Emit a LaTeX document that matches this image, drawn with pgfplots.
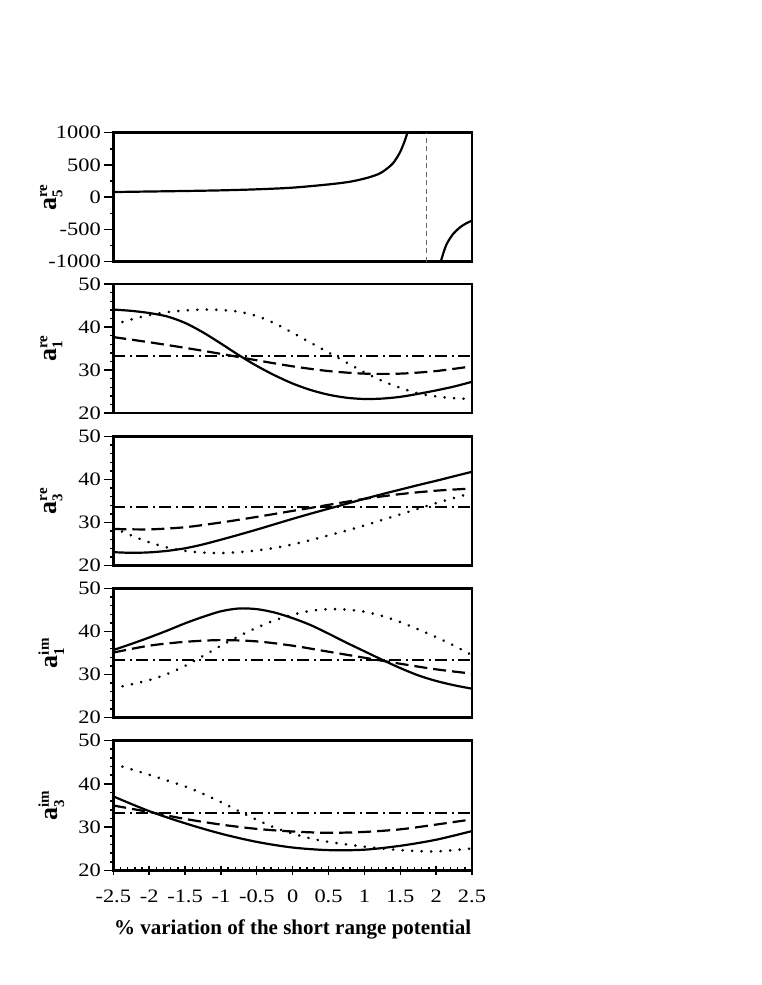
\documentclass[border=0pt]{standalone}
\usepackage{amsmath}
\usepackage{fontspec}
\setmainfont{Liberation Serif}
\newfontfamily\tickfont[FakeStretch=1.18]{Liberation Serif}
\usepackage{pgfplots}
\pgfplotsset{compat=1.18}
\newcommand{\scr}[1]{\mbox{\fontsize{15}{15}\selectfont\bfseries #1}}
\newcommand{\alab}[2]{$\textbf{a}_{\scr{#1}}^{\scr{#2}}$}
\pgfplotsset{
  panel/.style={
    scale only axis, width=358.7pt, height=129pt,
    anchor=south west,
    xmin=-2.5, xmax=2.5,
    axis line style={line width=2.5pt},
    tick style={line width=1.4pt, black},
    major tick length=9pt, minor tick length=3.5pt,
    tick align=outside,
    ytick pos=left, xtick pos=bottom,
    xtick=\empty,
    ticklabel style={font=\tickfont\fontsize{19}{21}\selectfont},
    every axis y label/.style={at={(axis description cs:0,0.5)}, xshift=-62pt, rotate=90, anchor=center, font=\fontsize{26}{28}\selectfont},
    ymin=20, ymax=50, ytick={20,30,40,50}, yticklabels={20,30,40,50}, minor ytick={22,24,26,28,32,34,36,38,42,44,46,48},
  },
  sol/.style={black, line width=2.2pt, smooth},
  dsh/.style={black, line width=2.2pt, smooth, dash pattern=on 13pt off 6pt},
  dot/.style={black, line width=2.9pt, smooth, line cap=round, dash pattern=on 0.01pt off 9.5pt},
  dd/.style={black, line width=2pt, dash pattern=on 12pt off 4.5pt on 2pt off 4.5pt},
}
\begin{document}
\begin{tikzpicture}
\useasboundingbox (0,0) rectangle (761pt,985pt);
% panel 1
\begin{axis}[panel, at={(113.3pt,723.3pt)},
  ymin=-1000, ymax=1000, ytick={-1000,-500,0,500,1000}, yticklabels={-1000,-500,0,500,1000},
  minor ytick={-750,-250,250,750},
  ylabel={\alab{5}{re}}]
\addplot[sol] coordinates {(-2.5,80)(-2,88)(-1.5,96)(-1,106)(-0.5,122)(0,148)(0.5,198)(0.8,240)(1.03,297)(1.2,360)(1.3,430)(1.4,528)(1.49,682)(1.55,836)(1.59,964)(1.62,1080)};
\addplot[sol] coordinates {(2.05,-1080)(2.07,-980)(2.14,-744)(2.23,-580)(2.33,-470)(2.42,-405)(2.5,-364)};
\addplot[gray!80!black, line width=1.1pt, dash pattern=on 5pt off 3.5pt] coordinates {(1.87,-1000)(1.87,1000)};
\end{axis}
% panel 2
\begin{axis}[panel, at={(113.3pt,571.8pt)},
  ylabel={\alab{1}{re}}]
\addplot[sol] coordinates {(-2.5,44.1)(-2.25,43.8)(-2.0,43.3)(-1.75,42.5)(-1.5,41.0)(-1.25,38.8)(-1.0,36.2)(-0.75,33.5)(-0.5,31.0)(-0.25,28.8)(0,26.9)(0.25,25.4)(0.5,24.3)(0.75,23.6)(1.0,23.3)(1.25,23.4)(1.5,23.8)(1.75,24.5)(2.0,25.3)(2.25,26.2)(2.5,27.3)};
\addplot[dot] coordinates {(-2.5,40.6)(-2.25,41.8)(-2.0,42.8)(-1.75,43.5)(-1.5,43.9)(-1.25,44.1)(-1.0,44.0)(-0.75,43.6)(-0.5,42.6)(-0.25,40.9)(0,38.7)(0.25,36.4)(0.5,34.1)(0.75,31.8)(1.0,29.5)(1.25,27.5)(1.5,25.9)(1.75,24.6)(2.0,23.9)(2.25,23.5)(2.5,23.3)};
\addplot[dsh] coordinates {(-2.5,37.7)(-2.0,36.5)(-1.5,35.2)(-1.0,33.8)(-0.5,32.3)(0,30.9)(0.5,29.8)(1.0,29.2)(1.5,29.2)(2.0,29.8)(2.5,30.9)};
\addplot[dd] coordinates {(-2.5,33.4)(2.5,33.4)};
\end{axis}
% panel 3
\begin{axis}[panel, at={(113.3pt,419.5pt)},
  ylabel={\alab{3}{re}}]
\addplot[sol] coordinates {(-2.5,23.1)(-2.25,22.95)(-2.0,23.05)(-1.75,23.4)(-1.5,24.0)(-1.25,24.9)(-1.0,26.0)(-0.75,27.15)(-0.5,28.35)(-0.25,29.6)(0,30.85)(0.25,32.05)(0.5,33.2)(0.75,34.35)(1.0,35.5)(1.25,36.6)(1.5,37.65)(1.75,38.7)(2.0,39.7)(2.25,40.75)(2.5,41.8)};
\addplot[dsh] coordinates {(-2.5,28.5)(-2.0,28.4)(-1.5,28.9)(-1.0,30.0)(-0.5,31.3)(0,32.7)(0.5,34.1)(1.0,35.5)(1.5,36.6)(2.0,37.4)(2.5,37.9)};
\addplot[dot] coordinates {(-2.5,28.8)(-2.25,27.0)(-2.0,25.4)(-1.75,24.2)(-1.5,23.4)(-1.25,23.0)(-1.0,22.9)(-0.75,23.1)(-0.5,23.5)(-0.25,24.1)(0,24.9)(0.25,25.9)(0.5,27.0)(0.75,28.1)(1.0,29.3)(1.25,30.6)(1.5,31.9)(1.75,33.2)(2.0,34.5)(2.25,35.7)(2.5,36.9)};
\addplot[dd] coordinates {(-2.5,33.6)(2.5,33.6)};
\end{axis}
% panel 4
\begin{axis}[panel, at={(113.3pt,267.5pt)},
  ylabel={\alab{1}{im}}]
\addplot[sol] coordinates {(-2.5,35.7)(-2.25,37.1)(-2.0,38.6)(-1.75,40.2)(-1.5,41.9)(-1.25,43.4)(-1.0,44.7)(-0.75,45.35)(-0.5,45.2)(-0.25,44.4)(0,43.1)(0.25,41.5)(0.5,39.5)(0.75,37.4)(1.0,35.4)(1.25,33.4)(1.5,31.5)(1.75,29.8)(2.0,28.5)(2.25,27.5)(2.5,26.7)};
\addplot[dsh] coordinates {(-2.5,35.1)(-2.0,36.7)(-1.5,37.6)(-1.0,38.0)(-0.5,37.7)(0,36.7)(0.5,35.3)(1.0,33.9)(1.5,32.5)(2.0,31.2)(2.5,30.2)};
\addplot[dot] coordinates {(-2.5,26.8)(-2.25,27.7)(-2.0,28.7)(-1.75,30.1)(-1.5,32.0)(-1.25,34.3)(-1.0,36.7)(-0.75,38.9)(-0.5,40.9)(-0.25,42.6)(0,43.9)(0.25,44.8)(0.5,45.2)(0.75,45.1)(1.0,44.6)(1.25,43.6)(1.5,42.2)(1.75,40.5)(2.0,38.7)(2.25,36.7)(2.5,34.5)};
\addplot[dd] coordinates {(-2.5,33.3)(2.5,33.3)};
\end{axis}
% panel 5
\begin{axis}[panel, at={(113.3pt,114.5pt)}, height=130pt,
  xtick={-2.5,-2,-1.5,-1,-0.5,0,0.5,1,1.5,2,2.5},
  xticklabels={-2.5,-2,-1.5,-1,-0.5,0,0.5,1,1.5,2,2.5},
  xticklabel style={yshift=-7pt},
  minor x tick num=4,
  major x tick style={yshift=4.5pt},
  minor x tick style={yshift=3.5pt},
  xlabel={\bfseries\% variation of the short range potential},
  every axis x label/.style={at={(axis description cs:0.5,0)}, anchor=base, yshift=-64pt, font=\fontsize{21}{24}\selectfont},
  ylabel={\alab{3}{im}}]
\addplot[sol] coordinates {(-2.5,37.1)(-2.0,33.7)(-1.5,30.9)(-1.0,28.5)(-0.5,26.6)(0,25.3)(0.5,24.7)(1.0,24.8)(1.5,25.7)(2.0,27.1)(2.5,29.1)};
\addplot[dsh] coordinates {(-2.5,35.0)(-2.0,33.5)(-1.5,31.9)(-1.0,30.6)(-0.5,29.6)(0,29.0)(0.5,28.7)(1.0,28.9)(1.5,29.5)(2.0,30.6)(2.5,31.8)};
\addplot[dot] coordinates {(-2.5,44.6)(-2.0,42.1)(-1.5,39.4)(-1.25,37.7)(-1.0,35.8)(-0.75,33.7)(-0.5,31.7)(-0.25,29.9)(0,28.5)(0.25,27.4)(0.5,26.6)(1.0,25.5)(1.5,24.7)(2.0,24.4)(2.5,25.1)};
\addplot[dd] coordinates {(-2.5,33.3)(2.5,33.3)};
\end{axis}
\end{tikzpicture}
\end{document}
